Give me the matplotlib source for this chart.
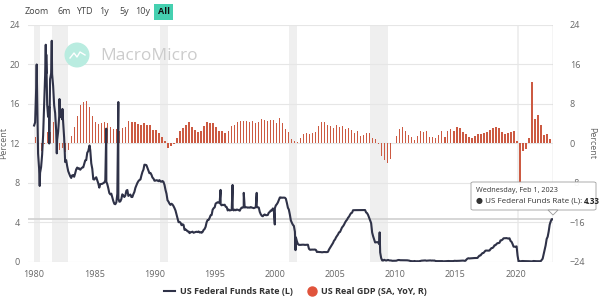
import matplotlib
matplotlib.use('Agg')
import matplotlib.pyplot as plt
from matplotlib.lines import Line2D
from matplotlib.patches import FancyBboxPatch, Ellipse, Polygon
import pandas as pd

plt.rcParams['font.family'] = ['Open Sans', 'DejaVu Sans']

# US Federal Funds Rate (monthly, %), Jan 1980 .. Feb 2023
ffr_by_year = {
    1980: [13.82, 14.13, 17.19, 17.61, 10.98, 9.47, 9.03, 9.61, 10.87, 12.81, 15.85, 18.90],
    1981: [19.08, 15.93, 14.70, 15.72, 18.52, 19.10, 19.04, 17.82, 15.87, 15.08, 13.31, 12.37],
    1982: [13.22, 14.78, 14.68, 14.94, 14.45, 14.15, 12.59, 10.12, 10.31, 9.71, 9.20, 8.95],
    1983: [8.68, 8.51, 8.77, 8.80, 8.63, 8.98, 9.37, 9.56, 9.45, 9.48, 9.34, 9.47],
    1984: [9.56, 9.59, 9.91, 10.29, 10.32, 11.06, 11.23, 11.64, 11.30, 9.99, 9.43, 8.38],
    1985: [8.35, 8.50, 8.58, 8.27, 7.97, 7.53, 7.88, 7.90, 7.92, 7.99, 8.05, 8.27],
    1986: [8.14, 7.86, 7.48, 6.99, 6.85, 6.92, 6.56, 6.17, 5.89, 5.85, 6.04, 6.91],
    1987: [6.43, 6.10, 6.13, 6.37, 6.85, 6.73, 6.58, 6.73, 7.22, 7.29, 6.69, 6.77],
    1988: [6.83, 6.58, 6.58, 6.87, 7.09, 7.51, 7.75, 8.01, 8.19, 8.30, 8.35, 8.76],
    1989: [9.12, 9.36, 9.85, 9.84, 9.81, 9.53, 9.24, 8.99, 9.02, 8.84, 8.55, 8.45],
    1990: [8.23, 8.24, 8.28, 8.26, 8.18, 8.29, 8.15, 8.13, 8.20, 8.11, 7.81, 7.31],
    1991: [6.91, 6.25, 6.12, 5.91, 5.78, 5.90, 5.82, 5.66, 5.45, 5.21, 4.81, 4.43],
    1992: [4.03, 4.06, 3.98, 3.73, 3.82, 3.76, 3.25, 3.30, 3.22, 3.10, 3.09, 2.92],
    1993: [3.02, 3.03, 3.07, 2.96, 3.00, 3.04, 3.06, 3.03, 3.09, 2.99, 3.02, 2.96],
    1994: [3.05, 3.25, 3.34, 3.56, 4.01, 4.25, 4.26, 4.47, 4.73, 4.76, 5.29, 5.45],
    1995: [5.53, 5.92, 5.98, 6.05, 6.01, 6.00, 5.85, 5.74, 5.80, 5.76, 5.80, 5.60],
    1996: [5.56, 5.22, 5.31, 5.22, 5.24, 5.27, 5.40, 5.22, 5.30, 5.24, 5.31, 5.29],
    1997: [5.25, 5.19, 5.39, 5.51, 5.50, 5.56, 5.52, 5.54, 5.54, 5.50, 5.52, 5.50],
    1998: [5.56, 5.51, 5.49, 5.45, 5.49, 5.56, 5.54, 5.55, 5.51, 5.07, 4.83, 4.68],
    1999: [4.63, 4.76, 4.81, 4.74, 4.74, 4.76, 4.99, 5.07, 5.22, 5.20, 5.42, 5.30],
    2000: [5.45, 5.73, 5.85, 6.02, 6.27, 6.53, 6.54, 6.50, 6.52, 6.51, 6.51, 6.40],
    2001: [5.98, 5.49, 5.31, 4.80, 4.21, 3.97, 3.77, 3.65, 3.07, 2.49, 2.09, 1.82],
    2002: [1.73, 1.74, 1.73, 1.75, 1.75, 1.75, 1.73, 1.74, 1.75, 1.75, 1.34, 1.24],
    2003: [1.24, 1.26, 1.25, 1.26, 1.26, 1.22, 1.01, 1.03, 1.01, 1.01, 1.00, 0.98],
    2004: [1.00, 1.01, 1.00, 1.00, 1.00, 1.03, 1.26, 1.43, 1.61, 1.76, 1.93, 2.16],
    2005: [2.28, 2.50, 2.63, 2.79, 3.00, 3.04, 3.26, 3.50, 3.62, 3.78, 4.00, 4.16],
    2006: [4.29, 4.49, 4.59, 4.79, 4.94, 4.99, 5.24, 5.25, 5.25, 5.25, 5.25, 5.24],
    2007: [5.25, 5.26, 5.26, 5.25, 5.25, 5.25, 5.26, 5.02, 4.94, 4.76, 4.49, 4.24],
    2008: [3.94, 2.98, 2.61, 2.28, 1.98, 2.00, 2.01, 2.00, 1.81, 0.97, 0.39, 0.16],
    2009: [0.15, 0.22, 0.18, 0.15, 0.18, 0.21, 0.16, 0.16, 0.15, 0.12, 0.12, 0.12],
    2010: [0.11, 0.13, 0.16, 0.20, 0.20, 0.18, 0.18, 0.19, 0.19, 0.19, 0.19, 0.18],
    2011: [0.17, 0.16, 0.14, 0.10, 0.09, 0.09, 0.07, 0.10, 0.08, 0.07, 0.08, 0.07],
    2012: [0.08, 0.10, 0.13, 0.14, 0.16, 0.16, 0.16, 0.13, 0.14, 0.16, 0.16, 0.16],
    2013: [0.14, 0.15, 0.14, 0.15, 0.11, 0.09, 0.09, 0.08, 0.08, 0.09, 0.08, 0.09],
    2014: [0.07, 0.07, 0.08, 0.09, 0.09, 0.10, 0.09, 0.09, 0.09, 0.09, 0.09, 0.12],
    2015: [0.11, 0.11, 0.11, 0.12, 0.12, 0.13, 0.13, 0.14, 0.14, 0.12, 0.12, 0.24],
    2016: [0.34, 0.38, 0.36, 0.37, 0.37, 0.38, 0.39, 0.40, 0.40, 0.40, 0.41, 0.54],
    2017: [0.65, 0.66, 0.79, 0.90, 0.91, 1.04, 1.15, 1.16, 1.15, 1.15, 1.16, 1.30],
    2018: [1.41, 1.42, 1.51, 1.69, 1.70, 1.82, 1.91, 1.91, 1.95, 2.19, 2.20, 2.27],
    2019: [2.40, 2.40, 2.41, 2.42, 2.39, 2.38, 2.40, 2.13, 2.04, 1.83, 1.55, 1.55],
    2020: [1.55, 1.58, 0.65, 0.05, 0.05, 0.08, 0.09, 0.10, 0.09, 0.09, 0.09, 0.09],
    2021: [0.09, 0.08, 0.07, 0.07, 0.06, 0.08, 0.10, 0.09, 0.08, 0.08, 0.08, 0.08],
    2022: [0.08, 0.08, 0.20, 0.33, 0.77, 1.21, 1.68, 2.33, 2.56, 3.08, 3.78, 4.10],
    2023: [4.33, 4.33],
}

# daily spikes
ffr_spike_dates = ['1980-03-20', '1980-06-20', '1980-12-20', '1981-01-05', '1981-04-05',
                   '1981-06-20', '1981-11-20', '1982-02-10', '1982-05-10', '1984-08-10',
                   '1985-12-31', '1986-12-31', '1995-06-30', '1996-06-28', '1997-06-02',
                   '1998-06-30', '1999-12-31', '2001-09-19', '2008-09-16']
ffr_spike_values = [20.0, 7.7, 22.0, 21.0, 12.0,
                    22.4, 11.0, 16.5, 15.5, 11.8,
                    13.5, 16.2, 7.3, 7.8, 7.0,
                    7.0, 3.8, 1.2, 3.0]

# US Real GDP (SA, YoY %), quarterly 1980Q1 .. 2022Q4
gdp_yoy = [1.3, -0.9, -1.5, -0.1, 2.4, 2.4, 4.3, 1.3, -1.4, -1.0, -1.8, -1.4,
           1.6, 3.3, 5.6, 7.7, 8.4, 8.6, 7.3, 5.6, 4.3, 3.9, 4.2, 4.4,
           4.1, 3.4, 3.0, 2.9, 2.6, 3.2, 3.4, 4.5, 4.3, 4.3, 4.0, 3.8,
           4.2, 3.8, 3.7, 2.7, 2.7, 2.1, 1.4, 0.6, -0.9, -0.5, -0.1, 1.1,
           2.5, 3.1, 3.7, 4.4, 3.3, 2.7, 2.3, 2.6, 3.5, 4.3, 4.1, 4.1,
           3.3, 2.5, 2.6, 2.2, 2.6, 3.6, 3.8, 4.4, 4.5, 4.6, 4.6, 4.3,
           4.6, 4.2, 4.4, 4.9, 4.7, 4.6, 4.7, 4.8, 4.2, 5.2, 4.1, 3.0,
           2.3, 1.0, 0.5, 0.2, 1.1, 1.9, 2.1, 1.9, 2.1, 2.3, 3.6, 4.3,
           4.3, 3.8, 3.6, 3.1, 3.7, 3.4, 3.5, 3.0, 3.1, 2.8, 2.2, 2.6,
           1.6, 1.8, 2.2, 2.1, 1.1, 1.0, -0.2, -2.5, -3.3, -3.9, -3.1, 0.1,
           1.6, 3.0, 3.3, 2.6, 1.7, 1.3, 0.8, 1.5, 2.5, 2.3, 2.5, 1.4,
           1.3, 1.1, 1.8, 2.6, 1.4, 2.5, 2.9, 2.6, 3.4, 3.1, 2.4, 1.9,
           1.4, 1.2, 1.6, 2.0, 1.9, 2.1, 2.3, 2.7, 3.1, 3.3, 3.1, 2.3,
           2.0, 2.1, 2.3, 2.6, 0.6, -8.4, -1.5, -1.1, 1.2, 12.5, 5.0, 5.7,
           3.7, 1.8, 1.9, 0.9]

recessions = [('1980-01-01', '1980-07-01'), ('1981-07-01', '1982-11-01'),
              ('1990-07-01', '1991-03-01'), ('2001-03-01', '2001-11-01'),
              ('2007-12-01', '2009-06-01'), ('2020-02-01', '2020-04-01')]

ffr_values = [v for y in sorted(ffr_by_year) for v in ffr_by_year[y]]
ffr = pd.Series(ffr_values, index=pd.date_range('1980-01-01', periods=len(ffr_values), freq='MS'))
spikes = pd.Series(ffr_spike_values, index=pd.to_datetime(ffr_spike_dates))
ffr = pd.concat([ffr, spikes]).sort_index()
gdp_dates = pd.date_range('1980-01-01', periods=len(gdp_yoy), freq='QS') + pd.Timedelta(days=45)

line_color = '#2f3248'
bar_color = '#cc5a42'
grid_color = '#e6e6e6'
text_color = '#666666'

fig = plt.figure(figsize=(6.0, 3.01), dpi=100)
ax = fig.add_axes([0.0467, 0.1296, 0.875, 0.7874])
ax2 = ax.twinx()
ax.set_zorder(ax2.get_zorder() + 1)
ax.patch.set_visible(False)

for a, b in recessions:
    ax2.axvspan(pd.Timestamp(a), pd.Timestamp(b), color='#efefef', lw=0, zorder=0)

ax2.bar(gdp_dates, gdp_yoy, width=40, color=bar_color, zorder=2)
ax.plot(ffr.index, ffr.values, color=line_color, lw=1.5, zorder=3)

# crosshair at the hovered point
last_date = ffr.index[-1]
ax2.axhline(2 * ffr.values[-1] - 24, color='#d0d0d0', lw=1.2, zorder=1)
ax2.axvline(last_date, color='#d0d0d0', lw=1.0, zorder=1)

ax.set_xlim(pd.Timestamp('1979-07-01'), pd.Timestamp('2023-02-10'))
ax.set_ylim(0, 24)
ax2.set_ylim(-24, 24)
ax.set_yticks([0, 4, 8, 12, 16, 20, 24])
ax2.set_yticks([-24, -16, -8, 0, 8, 16, 24])
ax.set_xticks([pd.Timestamp(f'{y}-01-01') for y in range(1980, 2021, 5)])
ax.set_xticklabels([str(y) for y in range(1980, 2021, 5)])
ax2.yaxis.grid(True, color=grid_color, lw=0.8)
ax2.set_axisbelow(True)

for a in (ax, ax2):
    for s in a.spines.values():
        s.set_visible(False)
    a.tick_params(length=0, labelsize=6.5, labelcolor=text_color)
ax.tick_params(axis='y', pad=6)
ax2.tick_params(axis='y', pad=12)
ax.tick_params(axis='x', pad=6)
ax.set_ylabel('Percent', fontsize=6.5, color=text_color, labelpad=1)
ax2.set_ylabel('Percent', fontsize=6.5, color=text_color, rotation=-90, labelpad=8)

# range selector buttons
for label, xc in [('Zoom', 37), ('6m', 64), ('YTD', 84), ('1y', 104), ('5y', 124), ('10y', 143)]:
    fig.text(xc / 600, 0.962, label, fontsize=6.5, color='#444444', ha='center', va='center')
fig.add_artist(FancyBboxPatch((154 / 600, 1 - 20 / 301), 19 / 600, 16 / 301,
                              boxstyle='square,pad=0', fc='#45d0b0', ec='none'))
fig.text(163.5 / 600, 0.962, 'All', fontsize=6.5, color='#111111', ha='center', va='center',
         fontweight='bold')

# watermark
fig.add_artist(Ellipse((77 / 600, 1 - 55 / 301), 25 / 600, 25 / 301, transform=fig.transFigure,
                       fc='#b9ece0', ec='none'))
fig.add_artist(Line2D([70 / 600, 74 / 600, 77 / 600, 80 / 600, 85 / 600],
                      [1 - 58 / 301, 1 - 53 / 301, 1 - 57 / 301, 1 - 52 / 301, 1 - 55 / 301],
                      transform=fig.transFigure, color='white', lw=1.0))
fig.text(100 / 600, 1 - 56 / 301, 'MacroMicro', fontsize=12.5, color='#cccccc', va='center')

# tooltip
fig.add_artist(FancyBboxPatch((471 / 600, 1 - 210 / 301), 125 / 600, 28 / 301,
                              boxstyle='round,pad=0,rounding_size=0.004', fc='white',
                              ec='#999999', lw=0.6, alpha=0.95))
fig.add_artist(Polygon([(548 / 600, 1 - 210 / 301), (558 / 600, 1 - 210 / 301),
                        (553 / 600, 1 - 215 / 301)], closed=True, transform=fig.transFigure,
                       fc='white', ec='#999999', lw=0.6))
fig.text(476 / 600, 1 - 190 / 301, 'Wednesday, Feb 1, 2023', fontsize=5.2, color='#333333',
         va='center')
t1 = fig.text(476 / 600, 1 - 201 / 301, '\u25cf US Federal Funds Rate (L): ', fontsize=5.8,
              color='#333333', va='center')
fig.canvas.draw()
x_end = t1.get_window_extent().x1 / fig.bbox.width
fig.text(x_end, 1 - 201 / 301, '4.33', fontsize=5.8, color='#222222', va='center',
         fontweight='bold')

# legend
handles = [Line2D([], [], color=line_color, lw=1.5),
           Line2D([], [], color='#e0533b', marker='o', ls='none', markersize=6.5)]
fig.legend(handles, ['US Federal Funds Rate (L)', 'US Real GDP (SA, YoY, R)'],
           loc='center', bbox_to_anchor=(0.493, 0.03), ncol=2, frameon=False,
           prop={'size': 6.5, 'weight': 'bold'}, labelcolor='#333333',
           handlelength=1.2, handletextpad=0.5, columnspacing=1.5)

plt.savefig('out.png', dpi=100)
